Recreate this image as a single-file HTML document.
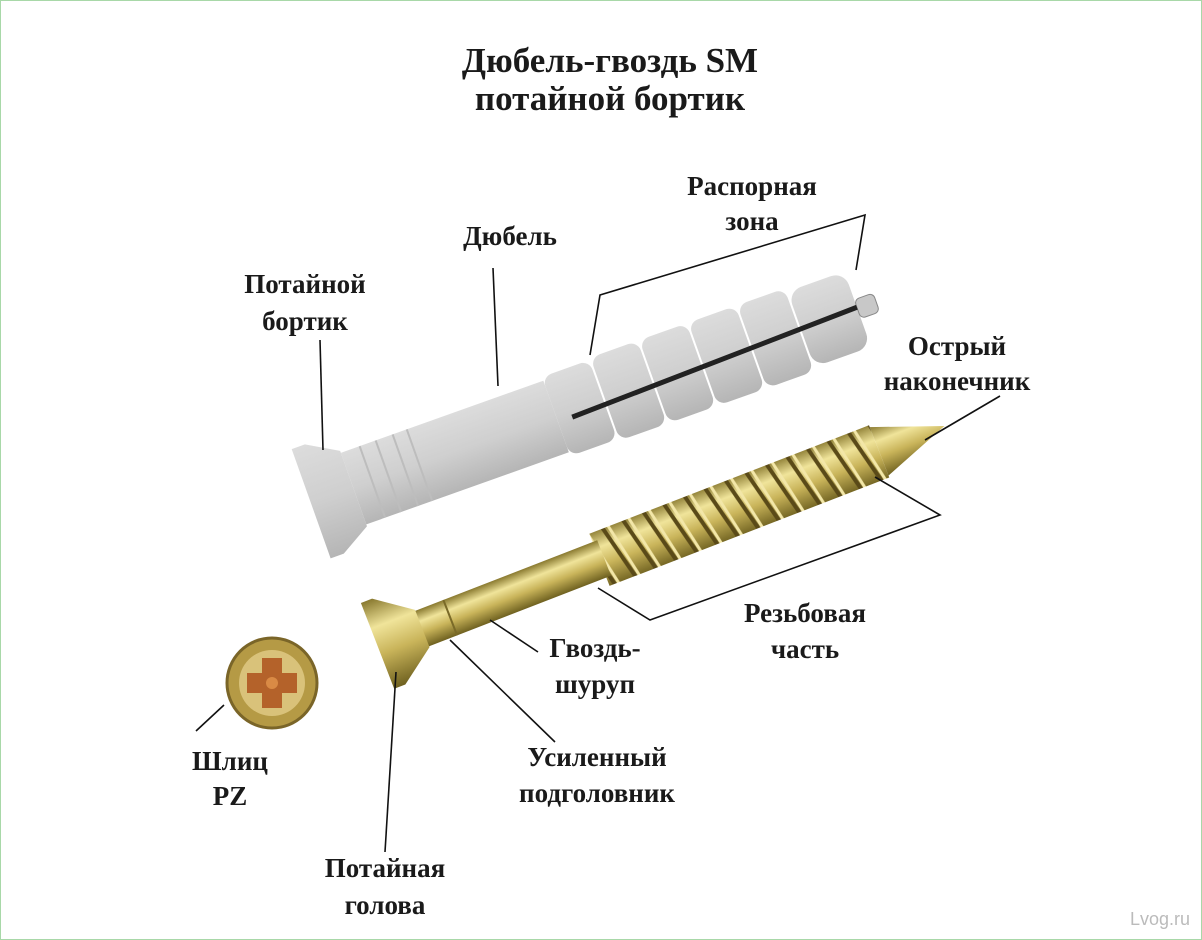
<!DOCTYPE html>
<html><head><meta charset="utf-8"><style>
html,body{margin:0;padding:0;background:#fff}
svg{display:block}
text{font-family:"Liberation Serif","DejaVu Serif",serif;font-weight:bold;fill:#1a1a1a;text-anchor:middle}
</style></head><body>
<svg width="1202" height="940" viewBox="0 0 1202 940" xmlns="http://www.w3.org/2000/svg">
<defs>
<linearGradient id="gr" x1="0" y1="0" x2="0" y2="1">
<stop offset="0" stop-color="#dcdcdc"/><stop offset="0.5" stop-color="#cfcfcf"/><stop offset="1" stop-color="#b5b5b5"/></linearGradient>
<linearGradient id="au" x1="0" y1="0" x2="0" y2="1">
<stop offset="0" stop-color="#8a7a30"/><stop offset="0.3" stop-color="#f0e49a"/><stop offset="0.6" stop-color="#c9b45a"/><stop offset="1" stop-color="#6f6120"/></linearGradient>
<pattern id="th" width="22" height="60" patternUnits="userSpaceOnUse" y="-30">
<rect width="22" height="60" fill="url(#au)"/>
<path d="M2 0 L16 60" stroke="#5a4a18" stroke-width="4"/>
<path d="M8 0 L20 60" stroke="#f3e7a8" stroke-width="3"/>
</pattern>
</defs>
<rect x="0.5" y="0.5" width="1201" height="939" fill="none" stroke="#a8d8a8"/>
<text x="610" y="72" font-size="35">Дюбель-гвоздь SM</text>
<text x="610" y="110" font-size="35">потайной бортик</text>

<!-- dowel -->
<g transform="translate(330,497) rotate(-19.6)">
<path d="M-20,-58 L-6,-58 L25,-40 L25,40 L-6,58 L-20,58 Z" fill="url(#gr)"/>
<rect x="25" y="-38" width="215" height="76" fill="url(#gr)"/>
<g stroke="#bdbdbd" stroke-width="2"><line x1="45" y1="-38" x2="45" y2="38"/><line x1="62" y1="-38" x2="62" y2="38"/><line x1="80" y1="-38" x2="80" y2="38"/><line x1="95" y1="-38" x2="95" y2="38"/></g>
<rect x="240" y="-42" width="50" height="84" rx="10" fill="url(#gr)"/>
<rect x="292" y="-44" width="50" height="88" rx="10" fill="url(#gr)"/>
<rect x="344" y="-44" width="50" height="88" rx="10" fill="url(#gr)"/>
<rect x="396" y="-44" width="50" height="88" rx="10" fill="url(#gr)"/>
<rect x="448" y="-44" width="50" height="88" rx="10" fill="url(#gr)"/>
<rect x="500" y="-40" width="60" height="80" rx="14" fill="url(#gr)"/>
<rect x="560" y="-10" width="20" height="20" rx="5" fill="#c8c8c8" stroke="#888"/>
<path d="M255,6 L560,-2" stroke="#222" stroke-width="5"/>
</g>

<!-- screw -->
<g transform="translate(385,643) rotate(-21.2)">
<rect x="230" y="-28" width="300" height="56" fill="url(#th)"/>
<path d="M530,-26 L600,0 L530,26 Z" fill="url(#au)"/>
<rect x="30" y="-19" width="205" height="38" fill="url(#au)"/>
<path d="M-8,-46 L4,-46 L40,-20 L40,20 L4,46 L-8,46 Z" fill="url(#au)"/>
<line x1="70" y1="-19" x2="70" y2="19" stroke="#7a6a28" stroke-width="2"/>
</g>

<!-- PZ head -->
<circle cx="272" cy="683" r="45" fill="#b59a45" stroke="#7a6528" stroke-width="3"/>
<circle cx="272" cy="683" r="33" fill="#d9c27a"/>
<path d="M262,658 h20 v15 h15 v20 h-15 v15 h-20 v-15 h-15 v-20 h15 z" fill="#b4622a"/>
<circle cx="272" cy="683" r="6" fill="#d98a45"/>

<g stroke="#111" stroke-width="1.6" fill="none">
<line x1="320" y1="340" x2="323" y2="450"/>
<line x1="493" y1="268" x2="498" y2="386"/>
<polyline points="590,355 600,295 865,215 856,270"/>
<line x1="1000" y1="396" x2="925" y2="440"/>
<polyline points="875,477 940,515 650,620 598,588"/>
<line x1="490" y1="620" x2="538" y2="652"/>
<line x1="450" y1="640" x2="555" y2="742"/>
<line x1="396" y1="672" x2="385" y2="852"/>
<line x1="196" y1="731" x2="224" y2="705"/>
</g>

<g font-size="27">
<text x="305" y="293">Потайной</text><text x="305" y="330">бортик</text>
<text x="510" y="245">Дюбель</text>
<text x="752" y="195">Распорная</text><text x="752" y="230">зона</text>
<text x="957" y="355">Острый</text><text x="957" y="390">наконечник</text>
<text x="805" y="622">Резьбовая</text><text x="805" y="658">часть</text>
<text x="595" y="657">Гвоздь-</text><text x="595" y="693">шуруп</text>
<text x="597" y="766">Усиленный</text><text x="597" y="802">подголовник</text>
<text x="230" y="770">Шлиц</text><text x="230" y="805">PZ</text>
<text x="385" y="877">Потайная</text><text x="385" y="914">голова</text>
</g>
<text x="1160" y="925" font-size="18" style="font-family:'Liberation Sans',sans-serif;font-weight:normal;fill:#bbb">Lvog.ru</text>
</svg>
</body></html>
